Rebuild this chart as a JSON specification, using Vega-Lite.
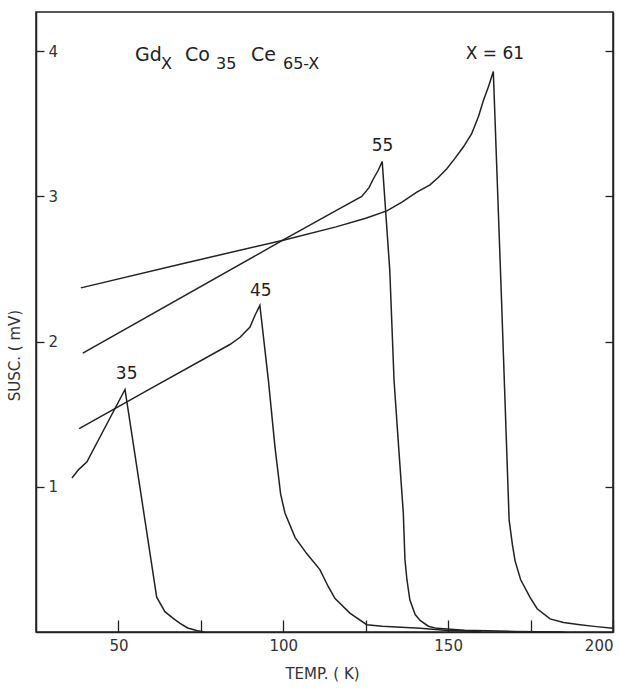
{
  "$schema": "https://vega.github.io/schema/vega-lite/v6.json",
  "width": 577,
  "height": 620,
  "autosize": {"type": "none"},
  "padding": {"left": 36, "top": 12, "right": 7, "bottom": 57},
  "background": "white",
  "config": {
    "view": {"stroke": "#222", "strokeWidth": 1.5},
    "font": "DejaVu Sans",
    "axis": {"grid": false, "domainColor": "#222", "tickColor": "#222", "labelColor": "#333", "titleColor": "#333", "domainWidth": 1.5, "tickWidth": 1.3, "titleFontWeight": "normal"}
  },
  "datasets": {
    "curves": [
      {"X": "35", "T": 35.9, "S": 1.06}, {"X": "35", "T": 38.0, "S": 1.12}, {"X": "35", "T": 40.4, "S": 1.17}, {"X": "35", "T": 52.0, "S": 1.67}, {"X": "35", "T": 61.6, "S": 0.24}, {"X": "35", "T": 64.1, "S": 0.14}, {"X": "35", "T": 66.6, "S": 0.094}, {"X": "35", "T": 68.7, "S": 0.06}, {"X": "35", "T": 71.0, "S": 0.028}, {"X": "35", "T": 73.7, "S": 0.01}, {"X": "35", "T": 76.0, "S": 0.0},
      {"X": "45", "T": 38.1, "S": 1.40}, {"X": "45", "T": 60.0, "S": 1.68}, {"X": "45", "T": 83.8, "S": 1.98}, {"X": "45", "T": 86.9, "S": 2.03}, {"X": "45", "T": 89.9, "S": 2.10}, {"X": "45", "T": 91.4, "S": 2.18}, {"X": "45", "T": 92.9, "S": 2.25}, {"X": "45", "T": 95.5, "S": 1.73}, {"X": "45", "T": 97.5, "S": 1.27}, {"X": "45", "T": 99.2, "S": 0.95}, {"X": "45", "T": 100.5, "S": 0.82}, {"X": "45", "T": 103.6, "S": 0.65}, {"X": "45", "T": 107.1, "S": 0.54}, {"X": "45", "T": 111.1, "S": 0.43}, {"X": "45", "T": 113.7, "S": 0.31}, {"X": "45", "T": 115.7, "S": 0.23}, {"X": "45", "T": 120.2, "S": 0.13}, {"X": "45", "T": 125.3, "S": 0.05}, {"X": "45", "T": 130.0, "S": 0.04}, {"X": "45", "T": 141.5, "S": 0.025}, {"X": "45", "T": 150.0, "S": 0.01}, {"X": "45", "T": 160.0, "S": 0.003},
      {"X": "55", "T": 39.2, "S": 1.92}, {"X": "55", "T": 100.0, "S": 2.70}, {"X": "55", "T": 114.2, "S": 2.88}, {"X": "55", "T": 119.0, "S": 2.94}, {"X": "55", "T": 123.8, "S": 3.00}, {"X": "55", "T": 126.0, "S": 3.06}, {"X": "55", "T": 127.3, "S": 3.12}, {"X": "55", "T": 128.8, "S": 3.18}, {"X": "55", "T": 130.0, "S": 3.24}, {"X": "55", "T": 132.3, "S": 2.49}, {"X": "55", "T": 133.6, "S": 1.73}, {"X": "55", "T": 135.0, "S": 1.27}, {"X": "55", "T": 136.4, "S": 0.82}, {"X": "55", "T": 136.9, "S": 0.50}, {"X": "55", "T": 137.5, "S": 0.36}, {"X": "55", "T": 138.4, "S": 0.22}, {"X": "55", "T": 140.0, "S": 0.12}, {"X": "55", "T": 141.5, "S": 0.08}, {"X": "55", "T": 144.0, "S": 0.04}, {"X": "55", "T": 146.5, "S": 0.025}, {"X": "55", "T": 155.0, "S": 0.012}, {"X": "55", "T": 170.0, "S": 0.004}, {"X": "55", "T": 185.0, "S": 0.0},
      {"X": "61", "T": 38.6, "S": 2.37}, {"X": "61", "T": 70.0, "S": 2.54}, {"X": "61", "T": 100.3, "S": 2.70}, {"X": "61", "T": 116.0, "S": 2.79}, {"X": "61", "T": 125.0, "S": 2.85}, {"X": "61", "T": 131.4, "S": 2.90}, {"X": "61", "T": 136.0, "S": 2.96}, {"X": "61", "T": 140.5, "S": 3.03}, {"X": "61", "T": 144.5, "S": 3.08}, {"X": "61", "T": 147.0, "S": 3.13}, {"X": "61", "T": 149.6, "S": 3.19}, {"X": "61", "T": 152.0, "S": 3.26}, {"X": "61", "T": 154.6, "S": 3.34}, {"X": "61", "T": 157.1, "S": 3.43}, {"X": "61", "T": 159.2, "S": 3.55}, {"X": "61", "T": 160.7, "S": 3.66}, {"X": "61", "T": 162.3, "S": 3.76}, {"X": "61", "T": 163.7, "S": 3.86}, {"X": "61", "T": 166.2, "S": 2.28}, {"X": "61", "T": 168.5, "S": 0.77}, {"X": "61", "T": 169.5, "S": 0.60}, {"X": "61", "T": 170.3, "S": 0.49}, {"X": "61", "T": 172.0, "S": 0.36}, {"X": "61", "T": 174.8, "S": 0.24}, {"X": "61", "T": 177.0, "S": 0.16}, {"X": "61", "T": 180.9, "S": 0.09}, {"X": "61", "T": 185.0, "S": 0.065}, {"X": "61", "T": 190.0, "S": 0.05}, {"X": "61", "T": 195.0, "S": 0.037}, {"X": "61", "T": 200.0, "S": 0.025}
    ],
    "labels": [
      {"T": 52.5, "S": 1.78, "label": "35"},
      {"T": 93.2, "S": 2.35, "label": "45"},
      {"T": 130.1, "S": 3.35, "label": "55"},
      {"T": 164.2, "S": 3.98, "label": "X = 61"}
    ],
    "title": [
      {"T": 55.0, "S": 3.93, "part": "Gd", "kind": "main"},
      {"T": 62.9, "S": 3.88, "part": "X", "kind": "sub"},
      {"T": 70.2, "S": 3.93, "part": "Co", "kind": "main"},
      {"T": 79.6, "S": 3.88, "part": "35", "kind": "sub"},
      {"T": 90.2, "S": 3.93, "part": "Ce", "kind": "main"},
      {"T": 99.9, "S": 3.88, "part": "65-X", "kind": "sub"}
    ]
  },
  "layer": [
    {
      "data": {"name": "curves"},
      "mark": {"type": "line", "color": "#222", "strokeWidth": 1.5},
      "encoding": {
        "x": {"field": "T", "type": "quantitative", "scale": {"domain": [25, 200], "nice": false, "zero": false},
          "axis": {"title": "TEMP. ( K)", "values": [50, 75, 100, 125, 150, 175, 200], "labelExpr": "datum.value % 50 === 0 ? datum.label : ''", "tickSize": -12, "labelPadding": 18, "labelFontSize": 15, "labelFlush": true, "titleFontSize": 15, "titleX": 286, "titleY": 41, "titleBaseline": "middle", "titleAlign": "center"}},
        "y": {"field": "S", "type": "quantitative", "scale": {"domain": [0, 4.27], "nice": false},
          "axis": {"title": "SUSC. ( mV)", "orient": "left", "values": [1, 2, 3, 4], "tickSize": -8, "labelPadding": -4, "labelAlign": "left", "labelBaseline": "middle", "labelFontSize": 15, "titleFontSize": 15, "titleAngle": -90, "titleX": -22, "titleY": 343, "titleAlign": "center", "titleBaseline": "middle"}},
        "detail": {"field": "X"},
        "order": {"field": "T"}
      }
    },
    {
      "data": {"name": "labels"},
      "mark": {"type": "text", "fontSize": 17, "color": "#222", "baseline": "middle"},
      "encoding": {
        "x": {"field": "T", "type": "quantitative", "axis": null},
        "y": {"field": "S", "type": "quantitative",
          "axis": {"orient": "right", "title": null, "values": [1, 2, 3, 4], "tickSize": -8, "labels": false}},
        "text": {"field": "label"}
      }
    },
    {
      "data": {"name": "title"},
      "mark": {"type": "text", "align": "left", "baseline": "alphabetic", "color": "#222"},
      "encoding": {
        "x": {"field": "T", "type": "quantitative", "axis": null},
        "y": {"field": "S", "type": "quantitative", "axis": null},
        "text": {"field": "part"},
        "size": {"field": "kind", "type": "nominal", "scale": {"domain": ["main", "sub"], "range": [19, 16]}, "legend": null}
      }
    }
  ],
  "resolve": {"axis": {"x": "independent", "y": "independent"}}
}
